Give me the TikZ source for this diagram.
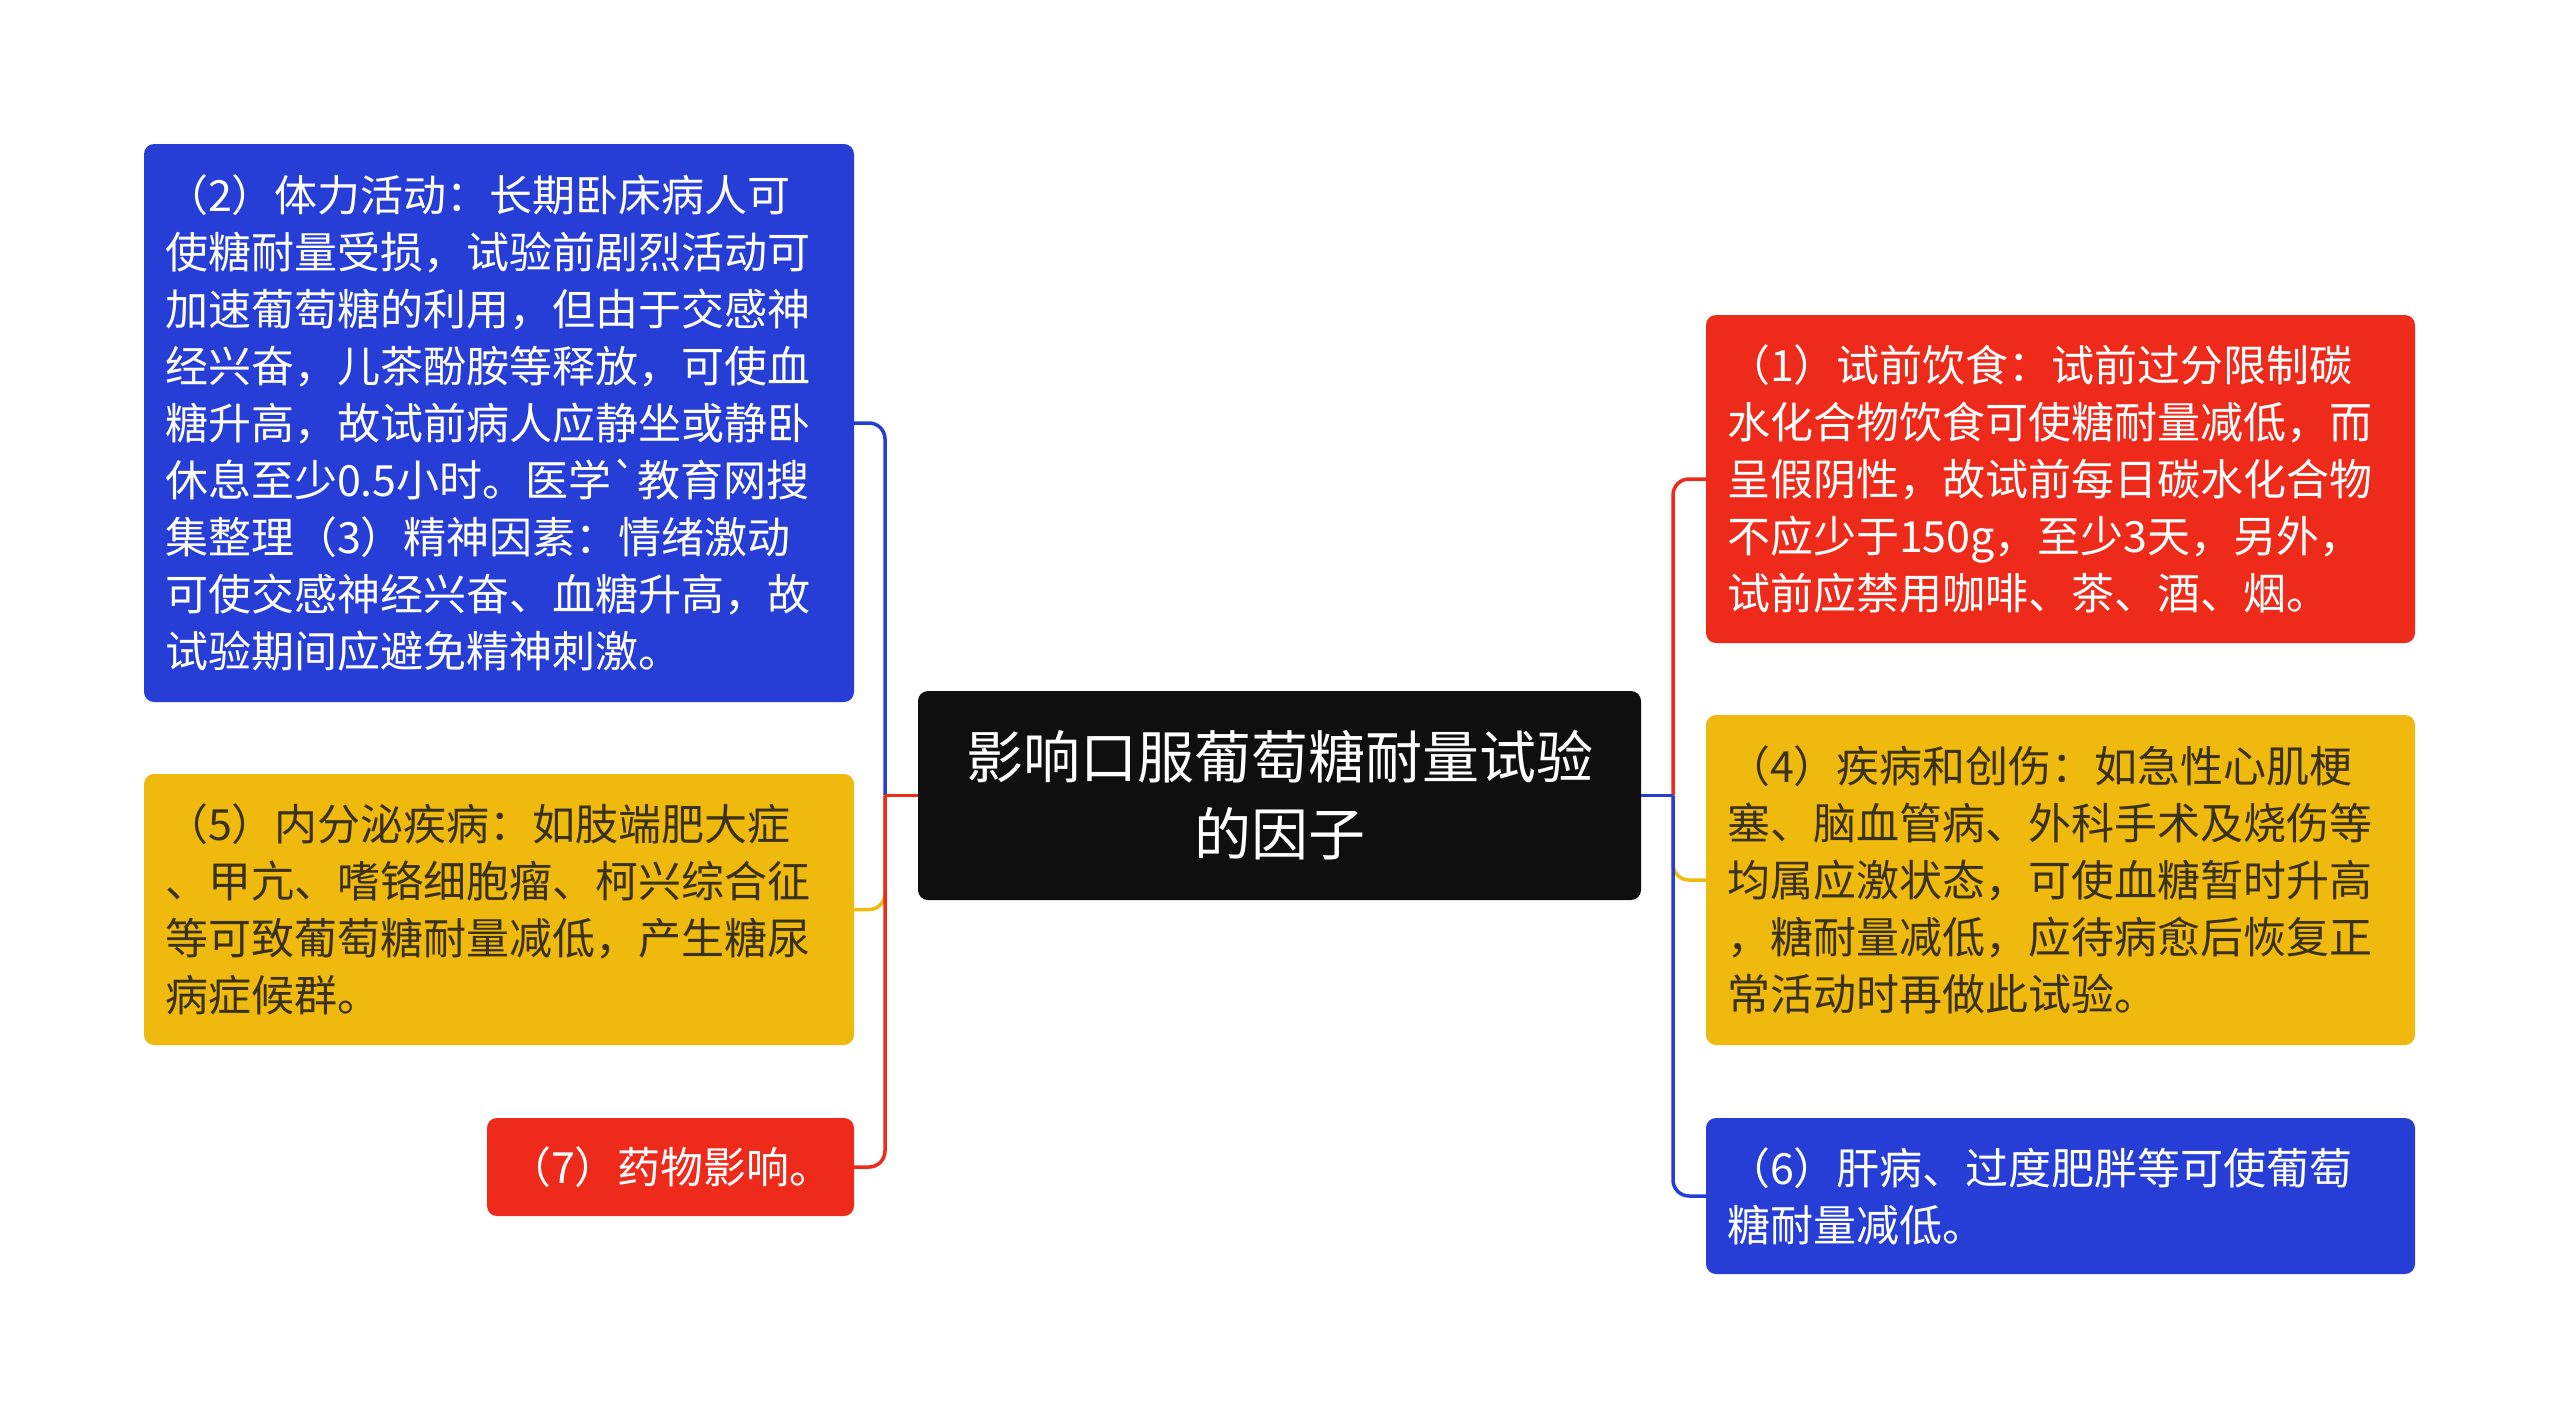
\documentclass[tikz,border=0pt]{standalone}
\usepackage{fontspec}
\setmainfont{Noto Sans CJK SC}
\newfontfamily\nomapfont{Noto Sans CJK SC}[Ligatures=TeXOff]
\definecolor{mblue}{HTML}{263ED6}
\definecolor{mred}{HTML}{EE2A1A}
\definecolor{myellow}{HTML}{EFB90E}
\definecolor{mblack}{HTML}{0F0F0F}
\definecolor{darktext}{HTML}{3A3218}
\begin{document}
\begin{tikzpicture}[x=1pt,y=-1pt,
  box/.style={rounded corners=10pt, inner xsep=21pt, inner ysep=0pt, align=left,
    font=\fontsize{43}{57}\selectfont, anchor=center},
  branch/.style={line width=3.5pt, rounded corners=16pt},
  stub/.style={line width=3.5pt},
]
\useasboundingbox[fill=white] (0,0) rectangle (2560,1419);

% center
\node[box, align=center, fill=mblack, text=white, text width=681pt, minimum height=209pt,
  font=\fontsize{57}{77}\selectfont] (c) at (1279.5,795.5)
  {影响口服葡萄糖耐量试验\\的因子};

% left
\node[box, fill=mblue, text=white, text width=668pt, minimum height=558pt] (n2) at (499,423)
{（2）体力活动：长期卧床病人可\\
使糖耐量受损，试验前剧烈活动可\\
加速葡萄糖的利用，但由于交感神\\
经兴奋，儿茶酚胺等释放，可使血\\
糖升高，故试前病人应静坐或静卧\\
休息至少0.5小时。医学{\nomapfont\char96}教育网搜\\
集整理（3）精神因素：情绪激动\\
可使交感神经兴奋、血糖升高，故\\
试验期间应避免精神刺激。};

\node[box, fill=myellow, text=darktext, text width=668pt, minimum height=271pt] (n5) at (499,909.5)
{（5）内分泌疾病：如肢端肥大症\\
、甲亢、嗜铬细胞瘤、柯兴综合征\\
等可致葡萄糖耐量减低，产生糖尿\\
病症候群。};

\node[box, align=center, fill=mred, text=white, text width=325pt, minimum height=98pt] (n7) at (670.5,1167)
{（7）药物影响。};

% right
\node[box, fill=mred, text=white, text width=667pt, minimum height=328pt] (n1) at (2060.5,479)
{（1）试前饮食：试前过分限制碳\\
水化合物饮食可使糖耐量减低，而\\
呈假阴性，故试前每日碳水化合物\\
不应少于150g，至少3天，另外，\\
试前应禁用咖啡、茶、酒、烟。};

\node[box, fill=myellow, text=darktext, text width=667pt, minimum height=330pt] (n4) at (2060.5,880)
{（4）疾病和创伤：如急性心肌梗\\
塞、脑血管病、外科手术及烧伤等\\
均属应激状态，可使血糖暂时升高\\
，糖耐量减低，应待病愈后恢复正\\
常活动时再做此试验。};

\node[box, fill=mblue, text=white, text width=667pt, minimum height=156pt] (n6) at (2060.5,1196)
{（6）肝病、过度肥胖等可使葡萄\\
糖耐量减低。};

% connectors
\coordinate (jl) at (885,795.5);
\coordinate (jr) at (1673,795.5);
\draw[branch, mblue] (jl) |- (n2.east);
\draw[branch, myellow] (jl) |- (n5.east);
\draw[branch, mred] (jl) |- (n7.east);
\draw[stub, mred] (c.west) -- (jl);

\draw[branch, mred] (jr) |- (n1.west);
\draw[branch, myellow] (jr) |- (n4.west);
\draw[branch, mblue] (jr) |- (n6.west);
\draw[stub, mblue] (c.east) -- (jr);
\end{tikzpicture}
\end{document}
